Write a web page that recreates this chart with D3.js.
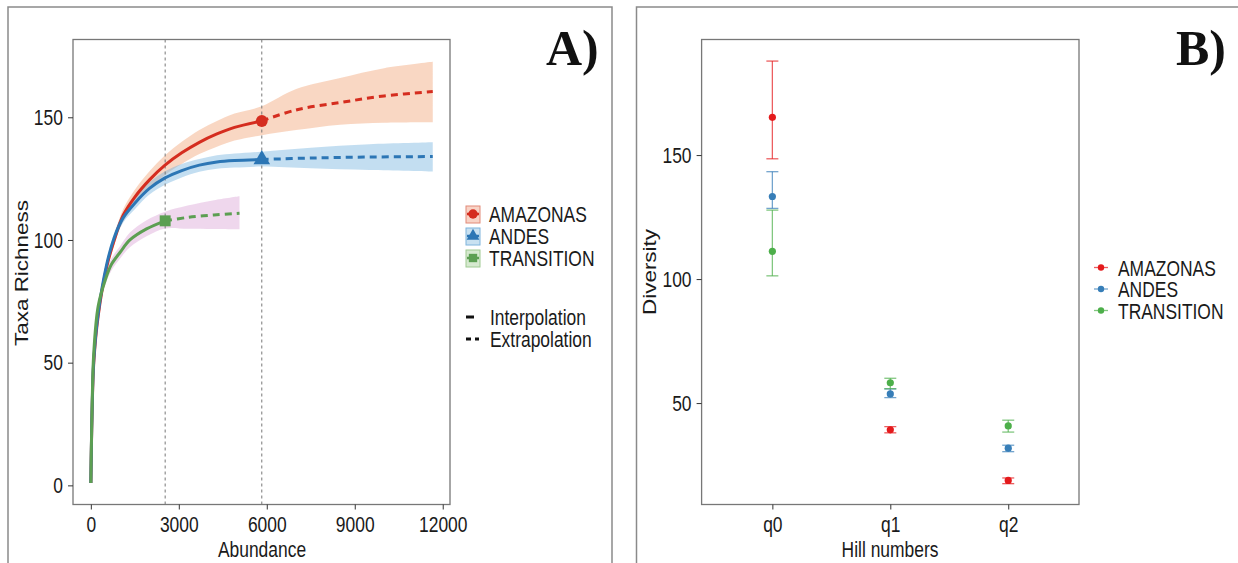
<!DOCTYPE html>
<html>
  <head>
    <meta charset='UTF-8'>
    <style>
    body { margin: 0; background: #fff; }
    svg { display: block; background: #fff; font-family: 'Liberation Sans', Arial, sans-serif; }
    </style>
  </head>
  <body>
  <script src='https://cdnjs.cloudflare.com/ajax/libs/d3/7.8.5/d3.min.js'></script>
  <script>

    // ---- data: rows are [abundance, richness, lower, upper]
    var sites = ['AMAZONAS', 'ANDES', 'TRANSITION'];

    var amazonasInterp = [
      [1, 1, 1, 1], [10, 9, 8.5, 9.5], [40, 28, 27, 29], [100, 50, 49, 51],
      [250, 69, 67.5, 70.5], [540, 89, 87, 91], [800, 100, 98, 102],
      [1100, 110, 107.5, 112.5], [1500, 117.5, 114.5, 120.5], [2000, 124.5, 121, 128],
      [2530, 130.5, 126.5, 134.5], [3100, 135.5, 131, 140], [3700, 139.8, 135, 144.8],
      [4300, 143.2, 138, 148.5], [4900, 145.9, 140.5, 151.5], [5830, 148.5, 142.7, 154.5]
    ];
    var amazonasExtrap = [
      [5830, 148.5, 142.7, 154.5], [7000, 153, 144.8, 161.5], [8500, 156, 147, 166],
      [10000, 158.7, 147.8, 170], [11660, 160.5, 148, 172.6]
    ];
    var andesInterp = [
      [1, 1, 1, 1], [10, 9, 8.5, 9.5], [40, 29, 28, 30], [100, 51, 50, 52],
      [250, 70, 68.5, 71.5], [540, 90, 88.5, 91.5], [800, 101, 99, 103],
      [1100, 109, 107, 111], [1500, 115, 112.5, 117.5], [2000, 121, 118.5, 123.5],
      [2530, 125.3, 122.5, 128], [3100, 128.3, 125.5, 131], [3700, 130.5, 127.8, 133],
      [4300, 131.8, 129, 134.5], [4900, 132.4, 129.5, 135.2], [5830, 132.8, 129.9, 136]
    ];
    var andesExtrap = [
      [5830, 132.8, 129.9, 136], [7500, 133.4, 129.2, 137.6], [9500, 133.8, 128.5, 139],
      [11660, 134, 127.9, 139.8]
    ];
    var transitionInterp = [
      [1, 1, 1, 1], [10, 9, 8.5, 9.5], [40, 30, 29, 31], [100, 54, 52.5, 55.5],
      [250, 73, 71, 75], [500, 84, 82, 86.5], [700, 90, 87.5, 92.5],
      [1000, 95, 92.5, 97.5], [1333, 100, 97, 103], [1900, 104.5, 101.5, 108],
      [2535, 107.8, 104.7, 111.5]
    ];
    var transitionExtrap = [
      [2535, 107.8, 104.7, 111.5], [3300, 109.2, 104.6, 114], [4200, 110.2, 104.5, 116.2],
      [5070, 110.9, 104.4, 117.8]
    ];
    var abundanceTicks = [0, 3000, 6000, 9000, 12000];
    var richnessTicks = [0, 50, 100, 150];

    // hill numbers panel
    var hill = ['q0', 'q1', 'q2'];
    var amazonasQ = [165.2, 39.2, 18.8];
    var amazonasLo = [148.5, 38.0, 17.5];
    var amazonasHi = [187.9, 40.5, 19.8];
    var andesQ = [133.3, 53.7, 31.8];
    var andesLo = [128.5, 52.2, 30.4];
    var andesHi = [143.3, 55.7, 33.0];
    var transitionQ = [111.2, 58.2, 40.8];
    var transitionLo = [101.3, 55.8, 38.3];
    var transitionHi = [127.8, 60.0, 43.1];
    var diversityTicks = [50, 100, 150];

    var lineCol = ['#d52d1f', '#2c76b5', '#5c9f52'];
    var bandCol = ['#f0a070', '#6fb0dd', '#d9a0d4'];
    var boxFill = ['#f8d3c6', '#c9e1f1', '#d6e9cf'];
    var boxLine = ['#e28a78', '#7fb4dc', '#9fca92'];
    var pointCol = ['#e41a1c', '#377eb8', '#4daf4a'];
    var FS = 22.5;
    var SX = 0.775; // text looks horizontally squeezed

    var svg = d3.select('body')
      .append('svg')
      .attr('width', 1238)
      .attr('height', 563);

    function txt(g, x, y, s, size, rot, anchor) {
      return g.append('text')
        .attr('transform', 'translate(' + x + ',' + y + ') scale(' + SX + ',1)' + (rot ? ' rotate(' + rot + ')' : ''))
        .attr('text-anchor', anchor || 'middle')
        .style('font-size', size + 'px')
        .attr('fill', '#1a1a1a')
        .text(s);
    }

    function styleAxis(g) {
      g.select('.domain').remove();
      g.selectAll('.tick line').attr('stroke', '#333');
      g.selectAll('.tick text')
        .attr('fill', '#1a1a1a')
        .style('font-size', FS + 'px')
        .style('font-family', "'Liberation Sans', Arial, sans-serif")
        .attr('transform', 'scale(' + SX + ',1)');
    }

    // panel frames
    svg.append('rect').attr('x', 8).attr('y', 7).attr('width', 604).attr('height', 600)
      .attr('fill', 'none').attr('stroke', '#8a8a8a').attr('stroke-width', 1.5);
    svg.append('rect').attr('x', 636.5).attr('y', 7).attr('width', 700).attr('height', 600)
      .attr('fill', 'none').attr('stroke', '#8a8a8a').attr('stroke-width', 1.5);

    // ================= Panel A =================
    var x = d3.scaleLinear().domain([-608, 12248]).range([73, 450]);
    var y = d3.scaleLinear().domain([-7.8, 181.7]).range([504.5, 39.5]);
    var A = svg.append('g');

    var curves = [
      [amazonasInterp, amazonasExtrap],
      [andesInterp, andesExtrap],
      [transitionInterp, transitionExtrap]
    ];

    var smooth = d3.curveCatmullRom.alpha(0.5);
    var area = d3.area().curve(smooth)
      .x(function(d) { return x(d[0]); })
      .y0(function(d) { return y(d[2]); })
      .y1(function(d) { return y(d[3]); });
    var line = d3.line().curve(smooth)
      .x(function(d) { return x(d[0]); })
      .y(function(d) { return y(d[1]); });

    curves.forEach(function(c, i) {
      A.append('path')
        .attr('d', area(c[0].concat(c[1].slice(1))))
        .attr('fill', bandCol[i])
        .attr('fill-opacity', 0.42);
    });

    // reference lines at observed sample sizes
    [transitionInterp, amazonasInterp].forEach(function(r) {
      var n = r[r.length - 1][0];
      A.append('line')
        .attr('x1', x(n)).attr('x2', x(n))
        .attr('y1', 39.5).attr('y2', 504.5)
        .attr('stroke', '#777').attr('stroke-width', 1)
        .attr('stroke-dasharray', '3,3');
    });

    curves.forEach(function(c, i) {
      A.append('path').attr('d', line(c[0]))
        .attr('fill', 'none').attr('stroke', lineCol[i]).attr('stroke-width', 3);
      A.append('path').attr('d', line(c[1]))
        .attr('fill', 'none').attr('stroke', lineCol[i]).attr('stroke-width', 3)
        .attr('stroke-dasharray', '7,5');
    });

    var symbols = [d3.symbolCircle, d3.symbolTriangle, d3.symbolSquare];
    var symSize = [110, 120, 120];
    curves.forEach(function(c, i) {
      var p = c[0][c[0].length - 1];
      A.append('path')
        .attr('d', d3.symbol().type(symbols[i]).size(symSize[i])())
        .attr('transform', 'translate(' + x(p[0]) + ',' + y(p[1]) + ')')
        .attr('fill', lineCol[i]);
    });

    A.append('rect').attr('x', 73).attr('y', 39.5).attr('width', 377).attr('height', 465)
      .attr('fill', 'none').attr('stroke', '#777').attr('stroke-width', 1.3);

    var ax = A.append('g').attr('transform', 'translate(0,504.5)')
      .call(d3.axisBottom(x).tickValues(abundanceTicks).tickSize(5).tickPadding(7).tickFormat(d3.format('d')));
    styleAxis(ax);
    var ay = A.append('g').attr('transform', 'translate(73,0)')
      .call(d3.axisLeft(y).tickValues(richnessTicks).tickSize(5).tickPadding(8));
    styleAxis(ay);

    txt(A, 262, 557, 'Abundance', FS);
    txt(A, 22, 273, 'Taxa Richness', FS, -90).attr('dy', '0.35em');

    A.append('text').attr('x', 546).attr('y', 65)
      .style('font-family', "'Liberation Serif', 'Times New Roman', serif")
      .style('font-weight', 'bold').style('font-size', '50px')
      .attr('fill', '#111').text('A)');

    // legend A
    var legY = [214, 236, 258];
    sites.forEach(function(s, i) {
      A.append('rect').attr('x', 466).attr('y', legY[i] - 8).attr('width', 14).attr('height', 17)
        .attr('fill', boxFill[i]).attr('stroke', boxLine[i]).attr('stroke-width', 1);
      A.append('line').attr('x1', 467).attr('x2', 479).attr('y1', legY[i]).attr('y2', legY[i])
        .attr('stroke', lineCol[i]).attr('stroke-width', 2.5);
      A.append('path')
        .attr('d', d3.symbol().type(symbols[i]).size(70)())
        .attr('transform', 'translate(473,' + legY[i] + ')')
        .attr('fill', lineCol[i]);
      txt(A, 489, legY[i] + 8, s, FS, 0, 'start');
    });
    var methods = ['Interpolation', 'Extrapolation'];
    var mY = [317, 339];
    A.append('line').attr('x1', 466).attr('x2', 474).attr('y1', mY[0]).attr('y2', mY[0])
      .attr('stroke', '#111').attr('stroke-width', 3);
    A.append('line').attr('x1', 466).attr('x2', 479).attr('y1', mY[1]).attr('y2', mY[1])
      .attr('stroke', '#111').attr('stroke-width', 3).attr('stroke-dasharray', '5,4');
    methods.forEach(function(m, i) {
      txt(A, 490, mY[i] + 8, m, FS, 0, 'start');
    });

    // ================= Panel B =================
    var xb = d3.scalePoint().domain(hill).range([701.6, 1079]).padding(0.6);
    var yb = d3.scaleLinear().domain([9.1, 196.6]).range([504.5, 39.5]);
    var B = svg.append('g');

    var qs = [
      [amazonasQ, amazonasLo, amazonasHi],
      [andesQ, andesLo, andesHi],
      [transitionQ, transitionLo, transitionHi]
    ];

    qs.forEach(function(q, i) {
      hill.forEach(function(h, j) {
        var cx = xb(h);
        var g = B.append('g').attr('stroke', pointCol[i]).attr('stroke-opacity', 0.7).attr('stroke-width', 1.3);
        g.append('line').attr('x1', cx).attr('x2', cx).attr('y1', yb(q[1][j])).attr('y2', yb(q[2][j]));
        g.append('line').attr('x1', cx - 6).attr('x2', cx + 6).attr('y1', yb(q[1][j])).attr('y2', yb(q[1][j]));
        g.append('line').attr('x1', cx - 6).attr('x2', cx + 6).attr('y1', yb(q[2][j])).attr('y2', yb(q[2][j]));
      });
    });
    qs.forEach(function(q, i) {
      B.selectAll(null).data(hill).enter().append('circle')
        .attr('cx', function(h) { return xb(h); })
        .attr('cy', function(h, j) { return yb(q[0][j]); })
        .attr('r', 3.6)
        .attr('fill', pointCol[i]);
    });

    B.append('rect').attr('x', 701.6).attr('y', 39.5).attr('width', 377.4).attr('height', 465)
      .attr('fill', 'none').attr('stroke', '#777').attr('stroke-width', 1.3);

    var bx = B.append('g').attr('transform', 'translate(0,504.5)')
      .call(d3.axisBottom(xb).tickSize(5).tickPadding(7));
    styleAxis(bx);
    var by = B.append('g').attr('transform', 'translate(701.6,0)')
      .call(d3.axisLeft(yb).tickValues(diversityTicks).tickSize(5).tickPadding(8));
    styleAxis(by);

    txt(B, 890, 557, 'Hill numbers', FS);
    txt(B, 650, 272, 'Diversity', FS, -90).attr('dy', '0.35em');

    B.append('text').attr('x', 1176).attr('y', 65)
      .style('font-family', "'Liberation Serif', 'Times New Roman', serif")
      .style('font-weight', 'bold').style('font-size', '50px')
      .attr('fill', '#111').text('B)');

    var legBY = [267.5, 289, 310.5];
    sites.forEach(function(s, i) {
      B.append('line').attr('x1', 1094).attr('x2', 1108).attr('y1', legBY[i]).attr('y2', legBY[i])
        .attr('stroke', pointCol[i]).attr('stroke-opacity', 0.7).attr('stroke-width', 1.3);
      B.append('circle').attr('cx', 1101).attr('cy', legBY[i]).attr('r', 3.2).attr('fill', pointCol[i]);
      txt(B, 1118, legBY[i] + 8, s, FS, 0, 'start');
    });

  </script>
  </body>
</html>
